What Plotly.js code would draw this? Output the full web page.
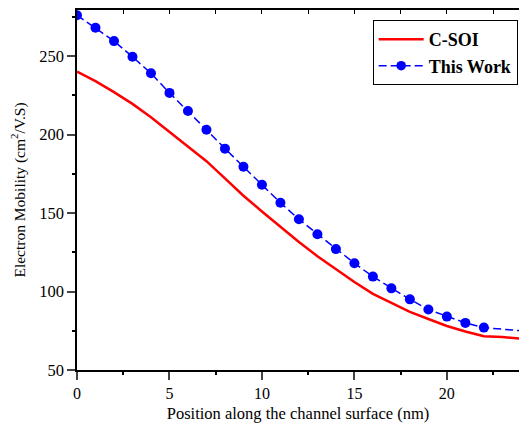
<!DOCTYPE html>
<html><head><meta charset="utf-8">
<script src="https://cdn.plot.ly/plotly-3.0.1.min.js"></script>
<style>body{margin:0;background:#fff}#c{width:519px;height:426px}</style>
</head><body><div id="c"></div>
<script>
const xCSOI = [0,1,2,3,4,5,6,7,8,9,10,11,12,13,14,15,16,17,18,19,20,21,22,23,24];
const yCSOI = [240,234,227,219.5,211,201.5,192.5,183,172,161,151,141,131.5,122.5,114,106,98.5,92.5,87,82.5,78,74.5,71.5,71,70];
const xWork = [0,1,2,3,4,5,6,7,8,9,10,11,12,13,14,15,16,17,18,19,20,21,22,24];
const yWork = [276,268,259.5,249.5,239,226.5,215,203,191,179.5,168,156.5,146,136.5,127,118,109.5,102,95,88.5,84,80,77,75];
const xTicks = [0,5,10,15,20];
const xMinor = [2.5,7.5,12.5,17.5,22.5];
const yTicks = [50,100,150,200,250];
const yMinor = [75,125,175,225,275];
const markerSizes = xWork.map(x => x <= 22 ? 10 : 0);

const font = {family: 'Liberation Serif, Times New Roman, Times, serif', color: '#000'};
Plotly.newPlot('c', [
  {x: xCSOI, y: yCSOI, name: 'C-SOI', mode: 'lines', line: {color: '#ff0000', width: 2.5}},
  {x: xWork, y: yWork, name: 'This Work', mode: 'lines+markers',
   line: {color: '#0000ff', width: 1.5, dash: '8px,4px'},
   marker: {color: '#0000ff', size: markerSizes, opacity: 1, line: {width: 0}}},
  {x: xCSOI, y: yCSOI, xaxis: 'x2', mode: 'lines', opacity: 0, showlegend: false, hoverinfo: 'skip',
   line: {color: '#ff0000', width: 0}}
], {
  width: 519, height: 426,
  margin: {l: 77, r: 0, t: 10, b: 56},
  paper_bgcolor: '#fff', plot_bgcolor: '#fff',
  font: Object.assign({size: 16}, font),
  showlegend: true,
  legend: {x: 0.997, y: 0.972, xanchor: 'right', yanchor: 'top', bgcolor: '#fff',
    bordercolor: '#000', borderwidth: 1, font: Object.assign({size: 18, weight: 'bold'}, font),
    tracegroupgap: 0, itemwidth: 45},
  xaxis: {range: [0, 23.9], tickvals: xTicks, ticks: 'outside', ticklen: 8, tickwidth: 1.5,
    tickfont: Object.assign({size: 16}, font),
    showline: true, linecolor: '#000', linewidth: 1.5, mirror: true, showgrid: false, zeroline: false,
    minor: {tickvals: xMinor, ticks: 'outside', ticklen: 3, tickcolor: '#000'},
    title: {text: 'Position along the channel surface (nm)', font: Object.assign({size: 16.5}, font), standoff: 6}},
  xaxis2: {range: [0, 23.9], overlaying: 'x', side: 'top', anchor: 'y', tickvals: xTicks.concat(xMinor),
    ticks: 'inside', ticklen: 4, tickwidth: 1, tickcolor: '#000', showticklabels: false,
    showline: false, showgrid: false, zeroline: false},
  yaxis: {range: [50, 279.3], tickvals: yTicks, ticks: 'outside', ticklen: 8, tickwidth: 1.5,
    tickfont: Object.assign({size: 16.5}, font),
    showline: true, linecolor: '#000', linewidth: 1.5, mirror: false, showgrid: false, zeroline: false,
    minor: {tickvals: yMinor, ticks: 'outside', ticklen: 3, tickcolor: '#000'},
    title: {text: 'Electron Mobility (cm<sup>2</sup>/V.S)', font: Object.assign({size: 15.5}, font), standoff: 10}}
}, {displayModeBar: false});
</script></body></html>
